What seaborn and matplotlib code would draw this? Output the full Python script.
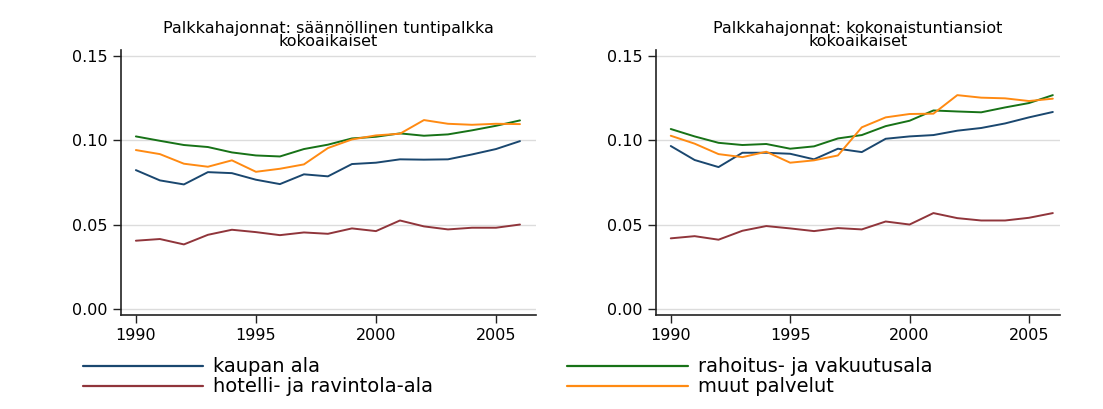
import pandas as pd
import matplotlib
matplotlib.use('Agg')
import matplotlib.pyplot as plt
import seaborn as sns

years = list(range(1990, 2007))

# left panel: säännöllinen tuntipalkka
left_kauppa = [0.0823, 0.0762, 0.0738, 0.0811, 0.0805, 0.0766, 0.0740, 0.0798, 0.0786,
               0.0859, 0.0867, 0.0887, 0.0885, 0.0887, 0.0916, 0.0948, 0.0995]
left_hotelli = [0.0404, 0.0414, 0.0382, 0.0439, 0.0469, 0.0455, 0.0437, 0.0453, 0.0445,
                0.0477, 0.0461, 0.0524, 0.0489, 0.0471, 0.0481, 0.0481, 0.0500]
left_rahoitus = [0.1023, 0.0997, 0.0972, 0.0960, 0.0928, 0.0910, 0.0904, 0.0948, 0.0974,
                 0.1011, 0.1021, 0.1041, 0.1027, 0.1035, 0.1059, 0.1086, 0.1118]
left_muut = [0.0942, 0.0918, 0.0861, 0.0843, 0.0881, 0.0813, 0.0831, 0.0857, 0.0954,
             0.1005, 0.1029, 0.1039, 0.1120, 0.1098, 0.1092, 0.1098, 0.1096]

# right panel: kokonaistuntiansiot
right_kauppa = [0.0966, 0.0883, 0.0841, 0.0926, 0.0926, 0.0920, 0.0887, 0.0950, 0.0930,
                0.1009, 0.1023, 0.1031, 0.1057, 0.1073, 0.1100, 0.1136, 0.1168]
right_hotelli = [0.0418, 0.0431, 0.0410, 0.0463, 0.0491, 0.0477, 0.0461, 0.0479, 0.0471,
                 0.0518, 0.0500, 0.0568, 0.0538, 0.0524, 0.0524, 0.0540, 0.0568]
right_rahoitus = [0.1067, 0.1023, 0.0985, 0.0972, 0.0978, 0.0950, 0.0964, 0.1011, 0.1031,
                  0.1084, 0.1116, 0.1177, 0.1171, 0.1166, 0.1195, 0.1221, 0.1268]
right_muut = [0.1027, 0.0980, 0.0918, 0.0900, 0.0932, 0.0867, 0.0881, 0.0910, 0.1077,
              0.1136, 0.1156, 0.1158, 0.1268, 0.1253, 0.1249, 0.1233, 0.1247]

sectors = ['kaupan ala', 'hotelli- ja ravintola-ala', 'rahoitus- ja vakuutusala', 'muut palvelut']
colors = ['#1a476f', '#90353b', '#177217', '#ff8a12']
titles = ['Palkkahajonnat: säännöllinen tuntipalkka\nkokoaikaiset',
          'Palkkahajonnat: kokonaistuntiansiot\nkokoaikaiset']


def to_long(series):
    rows = []
    for name, vals in zip(sectors, series):
        for y, v in zip(years, vals):
            rows.append({'vuosi': y, 'arvo': v, 'ala': name})
    return pd.DataFrame(rows)


df_left = to_long([left_kauppa, left_hotelli, left_rahoitus, left_muut])
df_right = to_long([right_kauppa, right_hotelli, right_rahoitus, right_muut])

sns.set_style('white')
plt.rcParams['font.family'] = ['DejaVu Sans']
plt.rcParams['text.color'] = 'black'

fig = plt.figure(figsize=(11.03, 4.09), dpi=100)
ax1 = fig.add_axes([0.1097, 0.2298, 0.3763, 0.648])
ax2 = fig.add_axes([0.5947, 0.2298, 0.3663, 0.648])

palette = dict(zip(sectors, colors))
for ax, df, title, xr in [(ax1, df_left, titles[0], 2006.67), (ax2, df_right, titles[1], 2006.3)]:
    sns.lineplot(data=df, x='vuosi', y='arvo', hue='ala', hue_order=sectors,
                 palette=palette, linewidth=1.4, ax=ax, legend=False)
    ax.set_xlim(1989.38, xr)
    ax.set_ylim(-0.0037, 0.1536)
    ax.set_yticks([0.0, 0.05, 0.10, 0.15])
    ax.set_yticklabels(['0.00', '0.05', '0.10', '0.15'])
    ax.set_xticks([1990, 1995, 2000, 2005])
    ax.yaxis.grid(True, color='#dcdcdc', linewidth=1)
    ax.xaxis.grid(False)
    ax.set_axisbelow(True)
    for s in ['top', 'right']:
        ax.spines[s].set_visible(False)
    for s in ['left', 'bottom']:
        ax.spines[s].set_color('#222222')
        ax.spines[s].set_linewidth(1.2)
    ax.tick_params(axis='both', which='major', direction='out', length=6, width=1,
                   color='#222222', labelcolor='black', labelsize=11.5, left=True, bottom=True)
    ax.set_xlabel('')
    ax.set_ylabel('')
    ax.set_title(title, fontsize=11.5, linespacing=0.85, pad=3, color='black')

handles = [plt.Line2D([], [], color=c, linewidth=1.6) for c in colors]
fig.legend(handles, sectors,
           loc='upper left', bbox_to_anchor=(0.068, 0.145), ncol=2, frameon=False,
           fontsize=14, handlelength=6.2, handletextpad=0.5, columnspacing=6.9,
           labelspacing=0.05, borderaxespad=0, labelcolor='black')

fig.savefig('out.png', dpi=100, facecolor='white')
